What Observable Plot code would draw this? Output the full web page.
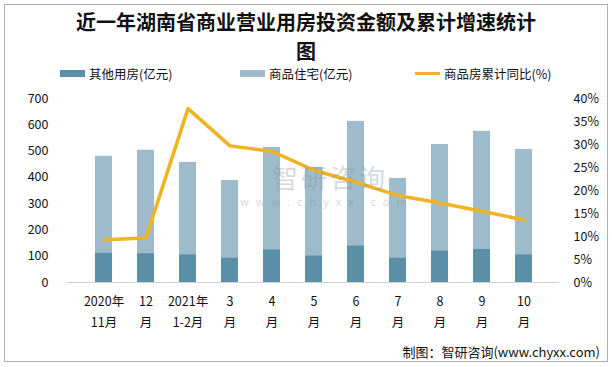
<!DOCTYPE html>
<html><head><meta charset="utf-8">
<script src="https://cdn.jsdelivr.net/npm/d3@7"></script>
<script src="https://cdn.jsdelivr.net/npm/@observablehq/plot@0.6"></script>
<style>
body{margin:0;background:#fff;}
#wrap{position:relative;width:612px;height:367px;overflow:hidden;font-family:"Noto Sans CJK SC","Noto Sans",sans-serif;}
#frame{position:absolute;left:4px;top:4px;width:604px;height:358px;border:1px solid #b0b0b0;box-sizing:border-box;}
.title{position:absolute;left:0;width:612px;text-align:center;font-size:20px;font-weight:bold;line-height:22px;height:22px;color:#111;}
#legend{position:absolute;top:64px;left:0;width:612px;height:18px;font-size:12.5px;color:#111;}
.li{position:absolute;top:0;display:flex;align-items:center;height:18px;}
.sw{display:inline-block;width:25px;margin-right:4px;}
#chart{position:absolute;left:0;top:85px;}
#caption{position:absolute;right:12px;top:342px;font-size:13px;color:#111;}
.wm{position:absolute;color:#8a96a6;opacity:0.35;pointer-events:none;white-space:nowrap;}
</style></head>
<body>
<div id="wrap">
  <div id="frame"></div>
  <div class="title" style="top:11px;">近一年湖南省商业营业用房投资金额及累计增速统计</div>
  <div class="title" style="top:40px;">图</div>
  <div id="legend"></div>
  <div id="chart"></div>
  <div class="wm" style="left:272px;top:163px;font-size:26px;line-height:28px;letter-spacing:3px;">智研咨询</div>
  <div class="wm" style="left:240px;top:195px;font-size:11px;line-height:12px;letter-spacing:7px;">www.chyxx.com</div>
  <div id="caption">制图：智研咨询(www.chyxx.com)</div>
</div>
<script>
const categories = ["2020年\n11月","12\n月","2021年\n1-2月","3\n月","4\n月","5\n月","6\n月","7\n月","8\n月","9\n月","10\n月"];
const otherUse = [113,110,106,94,125,102,140,94,121,128,106];     // 其他用房(亿元)
const residential = [367,393,351,294,389,336,473,302,404,447,400]; // 商品住宅(亿元)
const growthPct = [9.3,9.7,37.8,29.7,28.5,24.4,21.8,18.9,17.3,15.5,13.6]; // 商品房累计同比(%)
const leftTicks = [0,100,200,300,400,500,600,700];
const rightTicks = [0,5,10,15,20,25,30,35,40];

const seriesNames = ["其他用房(亿元)","商品住宅(亿元)","商品房累计同比(%)"];
const colors = ["#5b8fa8","#9dbbca","#f0b323"];

const yMax = 700, pMax = 40;
const toY = p => p * yMax / pMax;

const barData = [];
categories.forEach((c,i)=>{
  barData.push({cat:c, series:seriesNames[0], value:otherUse[i], order:0});
  barData.push({cat:c, series:seriesNames[1], value:residential[i], order:1});
});
const lineData = categories.map((c,i)=>({cat:c, pct:growthPct[i]}));

const chart = Plot.plot({
  width: 612,
  height: 250,
  marginTop: 13,
  marginBottom: 53,
  marginLeft: 67,
  marginRight: 53,
  style: {fontFamily: '"Noto Sans CJK SC","Noto Sans",sans-serif', fontSize: "12px", color: "#111", background: "transparent"},
  x: {domain: categories, padding: 0.6, label: null},
  y: {domain: [0, yMax], label: null},
  color: {domain: seriesNames.slice(0,2), range: colors.slice(0,2)},
  marks: [
    Plot.barY(barData, {x: "cat", y: "value", fill: "series", order: "order"}),
    Plot.ruleY([0], {stroke: "#d0d0d0", strokeWidth: 1.2}),
    Plot.line(lineData, {x: "cat", y: d => toY(d.pct), stroke: colors[2], strokeWidth: 3.5, strokeLinejoin: "round"}),
    Plot.axisY({ticks: leftTicks, tickSize: 0, tickPadding: 19, label: null, fontSize: 12.5}),
    Plot.axisY({anchor: "right", ticks: rightTicks.map(toY), tickFormat: d => Math.round(d * pMax / yMax) + "%", tickSize: 0, tickPadding: 14, label: null, fontSize: 12.5}),
    Plot.axisX({tickSize: 0, tickPadding: 8, label: null, fontSize: 12.5, lineHeight: 1.7})
  ]
});
document.getElementById("chart").appendChild(chart);

// legend
const legend = document.getElementById("legend");
const lx = [60, 240, 415];
seriesNames.forEach((n,i)=>{
  const el = document.createElement("div");
  el.className = "li";
  el.style.left = lx[i] + "px";
  const sw = document.createElement("span");
  sw.className = "sw";
  sw.style.height = i < 2 ? "7px" : "3px";
  sw.style.background = colors[i];
  el.appendChild(sw);
  el.appendChild(document.createTextNode(n));
  legend.appendChild(el);
});
</script>
</body></html>
